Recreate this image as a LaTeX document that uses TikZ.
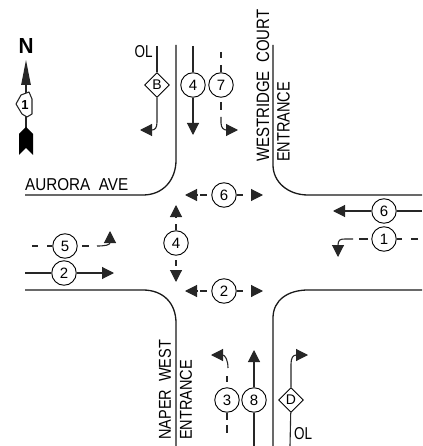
\documentclass[tikz,border=0pt]{standalone}
\usepackage{fontspec}
\setmainfont{Liberation Sans}
\usetikzlibrary{arrows.meta,shapes.geometric,calc}
\newcommand{\fitlabel}[3]{\resizebox{#1pt}{#2pt}{#3}}
\tikzset{
  curb/.style={line width=1.3pt,black!90},
  lane/.style={line width=1.1pt,black!85},
  tipped/.style={lane,-{Triangle[length=12pt,width=12pt]}},
  phase/.style={circle,draw=black,line width=0.9pt,fill=white,minimum size=24.5pt,inner sep=0pt,font=\fontsize{15}{15}\selectfont},
  olap/.style={diamond,draw=black,line width=0.9pt,fill=white,minimum size=25pt,inner sep=0pt,font=\fontsize{14}{14}\selectfont},
  street/.style={inner sep=0pt},
}
\begin{document}
\begin{tikzpicture}[x=1pt,y=-1pt]
\useasboundingbox (0,0) rectangle (422,446);
% north arrow
\node[inner sep=0pt] (n) at (26,46) {\fitlabel{15}{15}{\bfseries N}};
\coordinate (nt) at (26,60);
\coordinate (nb) at (26,130);
\draw[lane,-{Triangle[length=25pt,width=9.5pt]}] (nb) -- (nt);
\fill (26,127) -- (33,134) -- (33,155) -- (26,148) -- (19,155) -- (19,134) -- cycle;
\node[inner sep=0pt,minimum size=1pt] (sh) at (25,105) {};
\draw[lane,fill=white,line join=round] (29,92) -- (32,99) -- (32,114) -- (27,117) -- (22,114) -- (16,104) -- (21,95) -- cycle;
\node[font=\fontsize{13}{13}\selectfont\bfseries,inner sep=0pt] at (sh) {1};
% curbs
\coordinate (c1a) at (176,45); \coordinate (c1b) at (25,195);
\coordinate (c2a) at (273,45); \coordinate (c2b) at (422,195);
\coordinate (c3a) at (25,290); \coordinate (c3b) at (176,446);
\coordinate (c4a) at (422,290); \coordinate (c4b) at (273,446);
\draw[curb] (c1a) -- (176,160) .. controls (176,180) and (163,195) .. (143,195) -- (c1b);
\draw[curb] (c2a) -- (273,165) .. controls (273,182) and (288,195) .. (308,195) -- (c2b);
\draw[curb] (c3a) -- (143,290) .. controls (163,290) and (176,303) .. (176,323) -- (c3b);
\draw[curb] (c4a) -- (308,290) .. controls (288,290) and (273,300) .. (273,318) -- (c4b);
% street labels
\node[street,anchor=west] (aur) at (25,185) {\fitlabel{103}{12}{AURORA\ \ AVE}};
\node[street,rotate=90,anchor=west] (wc) at (263,162) {\fitlabel{152}{12.5}{WESTRIDGE\ \ COURT}};
\node[street,rotate=90,anchor=west] (we) at (283.5,162) {\fitlabel{80}{12.5}{ENTRANCE}};
\node[street,rotate=90,anchor=west] (nw) at (165,440) {\fitlabel{100}{12}{NAPER\ \ WEST}};
\node[street,rotate=90,anchor=west] (ne) at (186,440) {\fitlabel{80}{12}{ENTRANCE}};
\node[street] (ol1) at (143.5,52) {\fitlabel{18}{12}{OL}};
\node[street] (ol2) at (303,434) {\fitlabel{18}{12}{OL}};
% southbound
\coordinate (b0) at (157,46);
\coordinate (b1) at (140,130);
\node[olap] (B) at (157,85) {B};
\draw[lane] (b0) -- (B);
\draw[tipped] (B) -- (157,122) .. controls (157,128) and (155,130) .. (b1);
\coordinate (f0) at (193,46);
\coordinate (f1) at (193,135);
\node[phase] (p4n) at (193,85) {4};
\draw[lane] (f0) -- (p4n);
\draw[tipped] (p4n) -- (f1);
\coordinate (s0) at (221,52);
\coordinate (s1) at (238,130);
\node[phase] (p7) at (221,85) {7};
\draw[lane] (s0) -- (221,58) (221,65) -- (p7);
\draw[lane] (221,102) -- (221,110);
\draw[tipped] (221,117) -- (221,123) .. controls (221,128) and (224,130) .. (s1);
% eastbound
\coordinate (e0) at (32,246);
\coordinate (e1) at (110,231);
\node[phase] (p5) at (65,246) {5};
\draw[lane] (e0) -- (38,246) (47,246) -- (p5);
\draw[lane] (82,246) -- (89,246);
\draw[tipped] (97,246) .. controls (105,246) and (110,245) .. (e1);
\coordinate (t0) at (25,273);
\coordinate (t1) at (114,273);
\node[phase] (p2w) at (64,273) {2};
\draw[lane] (t0) -- (p2w);
\draw[tipped] (p2w) -- (t1);
% westbound
\coordinate (w0) at (422,211);
\coordinate (w1) at (333,211);
\node[phase] (p6e) at (384,211) {6};
\draw[lane] (w0) -- (p6e);
\draw[tipped] (p6e) -- (w1);
\coordinate (l0) at (418,239);
\coordinate (l1) at (338,257);
\node[phase] (p1) at (384,239) {1};
\draw[lane] (l0) -- (411,239) (402,239) -- (p1);
\draw[lane] (368,239) -- (359,239);
\draw[tipped] (353,239) -- (345,239) .. controls (340,239) and (338,240) .. (l1);
% pedestrian, north crossing
\node[phase] (p6) at (224,195) {6};
\coordinate (p6l) at (185,195);
\coordinate (p6r) at (263,195);
\draw[tipped] (198,195) -- (p6l);
\draw[lane] (200,195) -- (207,195);
\draw[lane] (p6) -- (243,195);
\draw[tipped] (251,195) -- (p6r);
% pedestrian, south crossing
\node[phase] (p2) at (224,291) {2};
\coordinate (p2l) at (185,291);
\coordinate (p2r) at (263,291);
\draw[lane] (p2) -- (243,291);
\draw[tipped] (251,291) -- (p2r);
\draw[tipped] (198,291) -- (p2l);
\draw[lane] (200,291) -- (207,291);
% pedestrian, west crossing
\node[phase] (p4) at (176,243) {4};
\coordinate (p4u) at (176,205);
\coordinate (p4d) at (176,282);
\draw[tipped] (176,218) -- (p4u);
\draw[lane] (176,224) -- (p4);
\draw[lane] (176,260) -- (176,266);
\draw[tipped] (176,270) -- (p4d);
% northbound
\coordinate (u0) at (227,433);
\coordinate (u1) at (211,355);
\node[phase] (p3) at (227,400) {3};
\draw[lane] (p3) -- (227,420) (227,425) -- (u0);
\draw[lane] (227,382) -- (227,376);
\draw[tipped] (228,368) .. controls (228,360) and (225,355) .. (u1);
\coordinate (m0) at (254,446);
\coordinate (m1) at (254,350);
\node[phase] (p8) at (254,400) {8};
\draw[lane] (m0) -- (p8);
\draw[tipped] (p8) -- (m1);
\coordinate (d0) at (290,446);
\coordinate (d1) at (308,355);
\node[olap] (D) at (291,400) {D};
\draw[lane] (d0) -- (D);
\draw[tipped] (D) -- (291,364) .. controls (291,358) and (293,355) .. (d1);
\end{tikzpicture}
\end{document}
